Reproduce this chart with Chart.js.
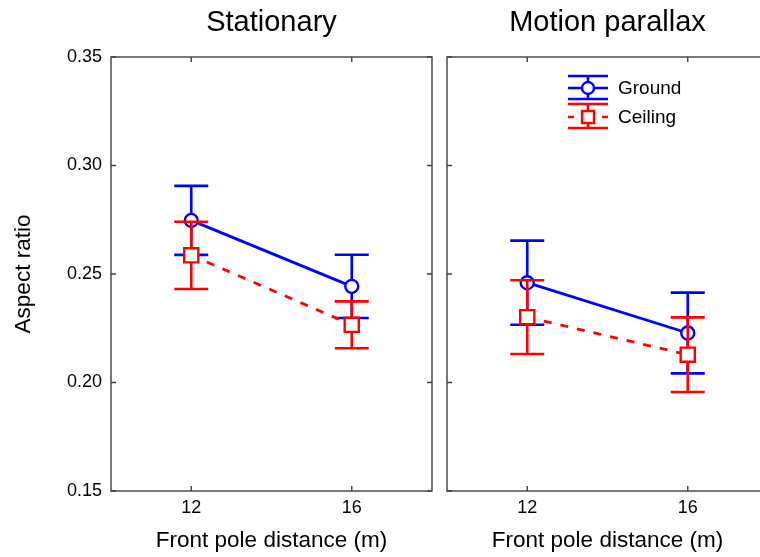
<!DOCTYPE html>
<html>
<head>
<meta charset="utf-8">
<script src="https://cdn.jsdelivr.net/npm/chart.js@4.4.0/dist/chart.umd.min.js"></script>
<style>
  html, body { margin:0; padding:0; background:#fff; overflow:hidden; width:760px; height:557px; }
  #left  { position:absolute; left:0;     top:0; }
  #right { position:absolute; left:440px; top:0; }
</style>
</head>
<body>
<canvas id="left" width="445" height="557"></canvas>
<canvas id="right" width="330" height="557"></canvas>
<script>
// ---- data ----
const DISTANCES = [12, 16];
const X_TICKS   = [12, 16];
const Y_TICKS   = [0.15, 0.20, 0.25, 0.30, 0.35];
const PANELS    = ["Stationary", "Motion parallax"];
const SERIES    = ["Ground", "Ceiling"];

const stationaryGround     = [0.2747, 0.2443];
const stationaryGroundErr  = [0.0159, 0.0146];
const stationaryCeiling    = [0.2586, 0.2266];
const stationaryCeilingErr = [0.0155, 0.0108];

const parallaxGround     = [0.2460, 0.2228];
const parallaxGroundErr  = [0.0194, 0.0186];
const parallaxCeiling    = [0.2301, 0.2128];
const parallaxCeilingErr = [0.0170, 0.0172];

// ---- styles ----
const BLUE  = "#0000ff";
const RED   = "#ff0000";
const FRAME = "#404040";
const FONT  = "'Liberation Sans', Arial, Helvetica, sans-serif";
Chart.defaults.font.family = FONT;
Chart.defaults.color = "#000";

const pts = (vals) => DISTANCES.map((d, i) => ({ x: d, y: vals[i] }));

// error bars, drawn just before each dataset so stacking matches the figure
const errorBarPlugin = {
  id: "errorBars",
  beforeDatasetDraw(chart, args) {
    const ds = chart.data.datasets[args.index];
    if (!ds.errors) return;
    const { ctx } = chart;
    const y = chart.scales.y;
    const half = 17;
    ctx.save();
    ctx.strokeStyle = ds.borderColor;
    ctx.lineWidth = 2.6;
    ctx.setLineDash([]);
    args.meta.data.forEach((pt, i) => {
      const v = ds.data[i].y, e = ds.errors[i];
      const top = y.getPixelForValue(v + e);
      const bot = y.getPixelForValue(v - e);
      ctx.beginPath();
      ctx.moveTo(pt.x, top); ctx.lineTo(pt.x, bot);
      ctx.moveTo(pt.x - half, top); ctx.lineTo(pt.x + half, top);
      ctx.moveTo(pt.x - half, bot); ctx.lineTo(pt.x + half, bot);
      ctx.stroke();
    });
    ctx.restore();
  }
};

// box round the plot with inward ticks on all four sides
const framePlugin = {
  id: "frame",
  afterDraw(chart) {
    const { ctx, chartArea: a, scales } = chart;
    const tl = 5;
    ctx.save();
    ctx.strokeStyle = FRAME;
    ctx.lineWidth = 1.4;
    ctx.strokeRect(a.left, a.top, a.right - a.left, a.bottom - a.top);
    ctx.beginPath();
    scales.x.ticks.forEach(t => {
      const px = scales.x.getPixelForValue(t.value);
      ctx.moveTo(px, a.bottom); ctx.lineTo(px, a.bottom - tl);
      ctx.moveTo(px, a.top);    ctx.lineTo(px, a.top + tl);
    });
    scales.y.ticks.forEach(t => {
      const py = scales.y.getPixelForValue(t.value);
      ctx.moveTo(a.left, py);  ctx.lineTo(a.left + tl, py);
      ctx.moveTo(a.right, py); ctx.lineTo(a.right - tl, py);
    });
    ctx.stroke();
    ctx.restore();
  }
};

// MATLAB-style errorbar legend (only on the right panel)
const legendPlugin = {
  id: "ebLegend",
  afterDraw(chart, args, opts) {
    if (!opts.show) return;
    const { ctx } = chart;
    const x0 = 128, x1 = 168, cx = 148;
    const rows = [
      { y: 88,  up: 12, dn: 11 },
      { y: 117, up: 13, dn: 11 }
    ];
    ctx.save();
    chart.data.datasets.slice().sort((a, b) => b.order - a.order).forEach((ds, k) => {
      const r = rows[k];
      ctx.strokeStyle = ds.borderColor;
      ctx.lineWidth = 2.6;
      ctx.setLineDash([]);
      ctx.beginPath();
      ctx.moveTo(x0, r.y - r.up); ctx.lineTo(x1, r.y - r.up);
      ctx.moveTo(x0, r.y + r.dn); ctx.lineTo(x1, r.y + r.dn);
      ctx.moveTo(cx, r.y - r.up); ctx.lineTo(cx, r.y + r.dn);
      ctx.stroke();
      ctx.beginPath();
      if (ds.borderDash && ds.borderDash.length) {
        ctx.moveTo(x0, r.y); ctx.lineTo(x0 + 6, r.y);
        ctx.moveTo(x1 - 6, r.y); ctx.lineTo(x1, r.y);
      } else {
        ctx.moveTo(x0, r.y); ctx.lineTo(x1, r.y);
      }
      ctx.stroke();
      ctx.fillStyle = "#fff";
      ctx.lineWidth = 2.4;
      ctx.beginPath();
      if (ds.pointStyle === "rect") ctx.rect(cx - 6, r.y - 6, 12, 12);
      else ctx.arc(cx, r.y, 6, 0, Math.PI * 2);
      ctx.fill(); ctx.stroke();
      ctx.fillStyle = "#000";
      ctx.font = "19px " + FONT;
      ctx.textAlign = "left";
      ctx.textBaseline = "middle";
      ctx.fillText(ds.label, 178, r.y + 1);
    });
    ctx.restore();
  }
};

function makePanel(id, title, g, gErr, c, cErr, left) {
  return new Chart(document.getElementById(id), {
    type: "line",
    data: {
      datasets: [
        { label: SERIES[0], data: pts(g), errors: gErr, order: 2,
          borderColor: BLUE, borderWidth: 2.8, pointStyle: "circle",
          pointRadius: 6.5, pointBorderWidth: 2.4, pointBackgroundColor: "#fff",
          pointBorderColor: BLUE, tension: 0 },
        { label: SERIES[1], data: pts(c), errors: cErr, order: 1,
          borderColor: RED, borderWidth: 2.8, borderDash: [8, 9], pointStyle: "rect",
          pointRadius: 10, pointBorderWidth: 2.4, pointBackgroundColor: "#fff",
          pointBorderColor: RED, tension: 0 }
      ]
    },
    options: {
      responsive: false,
      animation: false,
      layout: {
        autoPadding: false,
        padding: left ? { left: 0, right: 13, top: 0, bottom: 0 } : { left: 0, right: 2, top: 0, bottom: 0 }
      },
      plugins: {
        legend: { display: false },
        tooltip: { enabled: false },
        title: { display: true, text: title, fullSize: false, color: "#000",
                 font: { size: 29, weight: "normal" }, padding: { top: 6, bottom: 16.2 } },
        ebLegend: { show: !left }
      },
      scales: {
        x: {
          type: "linear", min: 10, max: 18,
          afterBuildTicks: s => { s.ticks = X_TICKS.map(v => ({ value: v })); },
          afterFit: s => { s.height = 66; s.paddingLeft = 0; s.paddingRight = 0; },
          grid: { display: false, drawTicks: false, tickLength: 0 },
          border: { display: false },
          ticks: { font: { size: 18 }, padding: 6, color: "#000" },
          title: { display: true, text: "Front pole distance (m)", color: "#000",
                   font: { size: 22.5 }, padding: { top: 0, bottom: 3 } }
        },
        y: {
          min: 0.15, max: 0.35,
          afterBuildTicks: s => { s.ticks = Y_TICKS.map(v => ({ value: v })); },
          afterFit: s => { s.width = left ? 111 : 7; s.paddingTop = 0; s.paddingBottom = 0; },
          grid: { display: false, drawTicks: false, tickLength: 0 },
          border: { display: false },
          ticks: { display: left, font: { size: 18 }, padding: 9, color: "#000",
                   callback: v => Number(v).toFixed(2) },
          title: { display: left, text: "Aspect ratio", color: "#000",
                   font: { size: 22.5 }, padding: { top: 10, bottom: 0 } }
        }
      }
    },
    plugins: [errorBarPlugin, framePlugin, legendPlugin]
  });
}

makePanel("left",  PANELS[0], stationaryGround, stationaryGroundErr, stationaryCeiling, stationaryCeilingErr, true);
makePanel("right", PANELS[1], parallaxGround,   parallaxGroundErr,   parallaxCeiling,   parallaxCeilingErr,   false);
</script>
</body>
</html>
